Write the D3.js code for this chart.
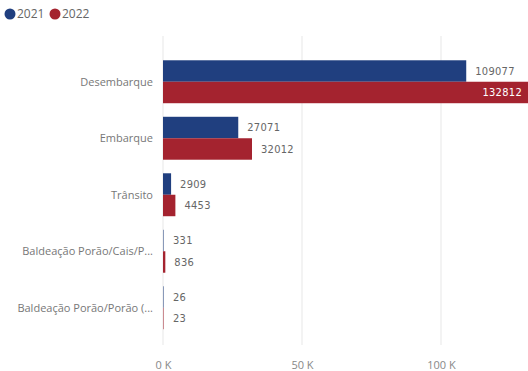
<!DOCTYPE html>
<html><head><meta charset="utf-8">
<script src="https://cdn.jsdelivr.net/npm/d3@7"></script>
<style>body{margin:0;background:#fff;overflow:hidden}svg{display:block}</style>
</head><body>
<svg id="c" width="528" height="371"></svg>
<script>
const categories = ["Desembarque","Embarque","Trânsito","Baldeação Porão/Cais/P...","Baldeação Porão/Porão (..."];
const series = ["2021","2022"];
const values2021 = [109077, 27071, 2909, 331, 26];
const values2022 = [132812, 32012, 4453, 836, 23];
const tickValues = [0, 50000, 100000];
const colors = ["#203F7F", "#A4232F"];

const svg = d3.select("#c");
const W = 528, H = 371;
const x0 = 163, pxPer50k = 139;
const x = d3.scaleLinear().domain([0, 50000]).range([x0, x0 + pxPer50k]);
const y = d3.scaleBand().domain(categories).range([53.5, 336]).paddingInner(0.24).paddingOuter(0.12);
const ySub = d3.scaleBand().domain(series).range([0, y.bandwidth()]);

// gridlines
svg.append("g").selectAll("line").data(tickValues).join("line")
  .attr("x1", d => x(d)).attr("x2", d => x(d))
  .attr("y1", 36).attr("y2", 345)
  .attr("stroke", "#ebebeb").attr("stroke-width", 1.2);

// axis
const axis = d3.axisBottom(x).tickValues(tickValues).tickSize(0)
  .tickFormat(d => (d/1000) + " K");
const ag = svg.append("g").attr("transform", "translate(0,358)").call(axis);
ag.select(".domain").remove();
ag.selectAll("text").attr("fill", "#888").style("font-family", "'Open Sans', sans-serif").style("font-size", "11px");

// category labels
svg.append("g").selectAll("text").data(categories).join("text")
  .attr("x", 153).attr("y", d => y(d) + y.bandwidth()/2)
  .attr("dy", "0.35em").attr("text-anchor", "end")
  .attr("fill", "#777").style("font-family", "'Open Sans', sans-serif").style("font-size", "11px")
  .text(d => d);

const rows = [];
categories.forEach((c, i) => {
  rows.push({c, s: "2021", v: values2021[i], col: colors[0]});
  rows.push({c, s: "2022", v: values2022[i], col: colors[1]});
});

svg.append("g").selectAll("rect").data(rows).join("rect")
  .attr("x", x(0))
  .attr("y", d => y(d.c) + ySub(d.s))
  .attr("width", d => Math.max(1, x(d.v) - x(0)))
  .attr("height", ySub.bandwidth())
  .attr("fill", d => d.col)
  .attr("fill-opacity", d => (x(d.v) - x(0)) < 1 ? 0.5 : 1);

// data labels
svg.append("g").selectAll("text").data(rows).join("text")
  .each(function(d) {
    const end = x(d.v);
    const inside = end + 60 > W;
    d3.select(this)
      .attr("x", inside ? W - 6 : Math.max(end, x(0) + 1) + 9)
      .attr("text-anchor", inside ? "end" : "start")
      .attr("fill", inside ? "#fff" : "#666");
  })
  .attr("y", d => y(d.c) + ySub(d.s) + ySub.bandwidth()/2)
  .attr("dy", "0.35em")
  .style("font-family", "'DejaVu Sans Condensed', 'DejaVu Sans', sans-serif")
  .style("font-size", "11px")
  .style("letter-spacing", "0.3px")
  .text(d => d.v);

// legend
const lg = svg.append("g");
series.forEach((s, i) => {
  const lx = 10 + i * 45;
  lg.append("circle").attr("cx", lx).attr("cy", 14).attr("r", 5.5).attr("fill", colors[i]);
  lg.append("text").attr("x", lx + 7).attr("y", 14).attr("dy", "0.35em")
    .attr("fill", "#666").style("font-family", "'Open Sans', sans-serif").style("font-size", "12px").text(s);
});
</script>
</body></html>
